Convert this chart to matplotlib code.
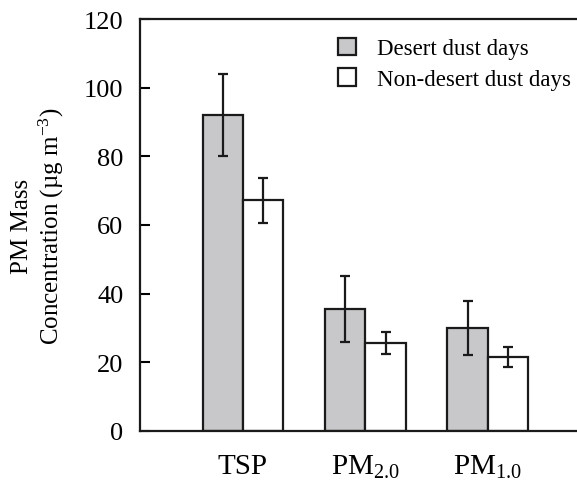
import numpy as np
import matplotlib.pyplot as plt

categories = ['TSP', 'PM$_{2.0}$', 'PM$_{1.0}$']
dust_mean = [92.0, 35.5, 30.0]
dust_err = [12.0, 9.6, 7.9]
nondust_mean = [67.2, 25.6, 21.5]
nondust_err = [6.5, 3.3, 3.0]
labels = ['Desert dust days', 'Non-desert dust days']

def plot_pm():
    plt.rcParams['font.family'] = ['Liberation Serif', 'DejaVu Serif']
    plt.rcParams['mathtext.fontset'] = 'custom'
    plt.rcParams['mathtext.rm'] = 'Liberation Serif'
    plt.rcParams['mathtext.it'] = 'Liberation Serif'

    fig = plt.figure(figsize=(5.77, 4.81), dpi=100)
    ax = fig.add_axes([0.2426, 0.1019, 0.7574, 0.8565])

    x = np.arange(len(categories))
    w = 0.33
    err_kw = dict(ecolor='#1a1a1a', elinewidth=1.6, capsize=3.5, capthick=1.6)
    ax.bar(x - w / 2, dust_mean, w, yerr=dust_err, color='#c8c8ca',
           edgecolor='#1a1a1a', linewidth=1.6, error_kw=err_kw, label=labels[0])
    ax.bar(x + w / 2, nondust_mean, w, yerr=nondust_err, color='white',
           edgecolor='#1a1a1a', linewidth=1.6, error_kw=err_kw, label=labels[1])

    ax.set_xlim(-0.842, 2.73)
    ax.set_ylim(0, 120)
    ax.set_yticks(np.arange(0, 121, 20))
    ax.set_xticks(x)
    ax.set_xticklabels(categories, fontsize=21)
    ax.tick_params(axis='x', length=0, pad=16)
    ax.tick_params(axis='y', direction='in', length=7, width=1.5,
                   labelsize=19, pad=12)
    for s in ['left', 'top', 'bottom']:
        ax.spines[s].set_linewidth(1.6)
        ax.spines[s].set_color('#1a1a1a')
    ax.spines['right'].set_visible(False)

    ax.set_ylabel('PM Mass\nConcentration (\u00b5g m$^{-3}$)', fontsize=18,
                  linespacing=1.15, labelpad=13)

    ax.legend(loc='upper left', bbox_to_anchor=(0.405, 1.005), frameon=False,
              fontsize=16.5, handlelength=0.8, handleheight=0.8,
              handletextpad=0.9, labelspacing=0.4)

    plt.savefig('out.png', dpi=100)
    plt.close()

if __name__ == '__main__':
    plot_pm()
